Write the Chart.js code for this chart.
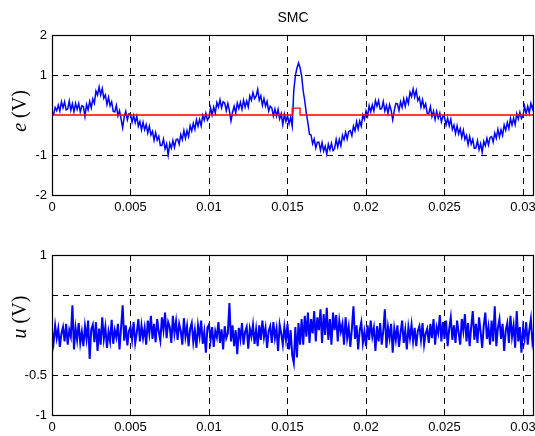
<!DOCTYPE html>
<html>
<head>
<meta charset="utf-8">
<script src="https://cdn.jsdelivr.net/npm/chart.js@4"></script>
<style>
  body { margin: 0; background: #fff; }
  .box { position: absolute; left: 0; width: 535px; height: 218px; }
  #top { top: 0; }
  #bottom { top: 218px; }
</style>
</head>
<body>
<div class="box" id="top"><canvas id="eChart" width="535" height="218"></canvas></div>
<div class="box" id="bottom"><canvas id="uChart" width="535" height="218"></canvas></div>
<script>
// sampling step of both signals (s)
const dt = 0.0001;

// tracking error e (V), one value per dt
const eVals = [
  0, 0.01, 0.19, 0.11, 0.25, 0.10, 0.33, 0.18, 0.33, 0.13,
  0.15, 0.35, 0.12, 0.28, 0.08, 0.29, 0.14, 0.29, 0.08, 0.23,
  0.21, -0.04, 0.26, 0.13, 0.34, 0.18, 0.40, 0.29, 0.60, 0.50,
  0.70, 0.50, 0.66, 0.42, 0.50, 0.26, 0.44, 0.23, 0.33, 0.09,
  0.08, 0.24, -0.02, 0.11, -0.10, -0.32, -0.05, 0.09, -0.12, 0.03,
  0.01, -0.18, -0.01, -0.19, -0.03, -0.28, -0.16, -0.37, -0.18, -0.37,
  -0.24, -0.45, -0.28, -0.50, -0.41, -0.63, -0.44, -0.63, -0.53, -0.76,
  -0.76, -0.60, -0.85, -0.72, -1.00, -0.71, -0.83, -0.64, -0.81, -0.62,
  -0.60, -0.73, -0.49, -0.62, -0.39, -0.58, -0.39, -0.54, -0.27, -0.40,
  -0.21, -0.36, -0.12, -0.28, -0.11, -0.27, -0.01, -0.13, 0.04, -0.13,
  -0.06, 0.18, 0.00, 0.20, 0.05, 0.31, 0.20, 0.38, 0.18, 0.33,
  0.30, 0.11, 0.29, 0.11, -0.15, 0.07, 0.22, 0.05, 0.30, 0.16,
  0.32, 0.14, 0.37, 0.20, 0.35, 0.20, 0.48, 0.37, 0.56, 0.41,
  0.47, 0.64, 0.37, 0.48, 0.24, 0.41, 0.22, 0.34, 0.10, 0.22,
  0.18, -0.02, 0.15, -0.03, 0.14, -0.10, 0.03, -0.24, 0.02, -0.16,
  -0.02, -0.22, -0.06, -0.28, 0.62, 0.98, 1.17, 1.30, 1.18, 0.98,
  0.60, 0.35, 0.04, -0.20, -0.48, -0.50, -0.72, -0.60, -0.82, -0.68,
  -0.68, -0.88, -0.69, -0.90, -0.78, -0.98, -0.73, -0.87, -0.71, -0.89,
  -0.84, -0.61, -0.80, -0.61, -0.77, -0.51, -0.62, -0.43, -0.60, -0.41,
  -0.39, -0.52, -0.28, -0.40, -0.17, -0.35, -0.15, -0.28, 0.00, -0.11,
  0.10, -0.03, 0.23, 0.08, 0.25, 0.10, 0.36, 0.22, 0.36, 0.15,
  0.16, 0.34, 0.10, 0.24, 0.04, 0.26, 0.12, -0.12, 0.11, 0.29,
  0.28, 0.11, 0.33, 0.19, 0.40, 0.22, 0.42, 0.29, 0.57, 0.46,
  0.65, 0.45, 0.61, 0.36, 0.44, 0.20, 0.38, 0.18, 0.28, 0.04,
  0.04, 0.21, -0.04, 0.10, -0.11, 0.09, -0.08, 0.05, -0.17, -0.03,
  -0.06, -0.25, -0.08, -0.27, -0.11, -0.36, -0.25, -0.46, -0.27, -0.47,
  -0.34, -0.56, -0.38, -0.61, -0.51, -0.74, -0.54, -0.73, -0.61, -0.83,
  -0.82, -0.64, -0.87, -0.72, -0.93, -0.66, -0.77, -0.58, -0.75, -0.56,
  -0.54, -0.68, -0.45, -0.58, -0.36, -0.55, -0.37, -0.51, -0.25, -0.38,
  -0.19, -0.34, -0.09, -0.25, -0.08, -0.24, 0.03, -0.10, 0.07, -0.09,
  -0.02, 0.22, 0.03, 0.22, 0.05, 0.29, 0.15, 0.33
];

// red reference trace (step around 0.0155 s)
const refT = [0, 0.0153, 0.0153, 0.0158, 0.0158, 0.0307];
const refV = [0, 0, 0.17, 0.17, 0, 0];

// control signal u (V), one value per dt
const uVals = [
  0.05, -0.1, 0.12, -0.04, 0.08, -0.15, 0.02, 0.1, -0.08, 0.14,
  -0.12, 0.06, -0.02, 0.37, -0.18, 0.09, -0.06, 0.15, -0.1, 0.04,
  -0.14, 0.11, -0.05, 0.18, -0.3, 0.07, 0.13, -0.09, 0.16, -0.2,
  0.08, -0.12, 0.22, -0.05, 0.1, -0.16, 0.04, -0.08, 0.19, -0.11,
  0.06, -0.03, 0.14, -0.18, 0.09, 0.37, -0.07, 0.12, -0.13, 0.05,
  0.1, -0.06, 0.16, -0.1, 0.03, 0.2, -0.08, 0.12, -0.04, 0.09,
  -0.12, 0.18, 0.02, 0.24, -0.05, 0.14, -0.09, 0.2, 0.04, -0.07,
  0.22, 0.06, 0.28, -0.04, 0.16, 0.1, -0.1, 0.24, 0.02, 0.17,
  -0.06, 0.14, 0.05, -0.12, 0.21, -0.02, 0.11, -0.14, 0.08, 0.15,
  -0.09, 0.06, -0.16, 0.12, -0.02, 0.18, -0.11, 0.04, -0.22, 0.09,
  0.13, -0.07, 0.1, -0.15, 0.05, -0.03, 0.16, -0.1, 0.07, -0.18,
  0.11, -0.04, 0.02, 0.4, -0.08, 0.12, -0.14, 0.06, -0.24, 0.09,
  -0.05, 0.15, -0.12, 0.04, 0.1, -0.17, 0.08, -0.02, 0.13, -0.11,
  0.07, -0.14, 0.12, -0.06, 0.18, -0.03, 0.09, -0.16, 0.05, 0.11,
  -0.1, 0.16, -0.04, 0.08, -0.2, 0.13, 0.02, -0.12, 0.1, -0.06,
  0.14, -0.18, 0.06, -0.25, -0.35, 0.1, -0.28, 0.15, -0.12, 0.2,
  -0.12, 0.24, -0.02, 0.28, -0.1, 0.2, 0.02, 0.3, -0.08, 0.22,
  0.06, 0.32, -0.1, 0.26, 0.0, 0.34, -0.06, 0.2, -0.12, 0.28,
  0.06, 0.25, -0.08, 0.18, 0.04, 0.14, -0.12, 0.22, -0.04, 0.1,
  -0.15, 0.08, 0.36, -0.05, 0.12, -0.18, 0.06, 0.16, -0.1, 0.04,
  -0.14, 0.12, -0.06, 0.18, -0.02, 0.09, -0.2, 0.11, -0.08, 0.15,
  -0.12, 0.05, 0.32, -0.16, 0.1, -0.04, 0.14, -0.22, 0.08, -0.06,
  0.12, -0.15, 0.03, 0.18, -0.1, 0.06, -0.18, 0.1, -0.04, 0.13,
  -0.08, 0.09, -0.14, 0.05, 0.11, -0.06, 0.15, -0.12, 0.02, 0.08,
  -0.1, 0.14, -0.04, 0.2, -0.12, 0.1, 0.02, 0.25, -0.08, 0.16,
  -0.05, 0.18, -0.14, 0.08, 0.22, -0.06, 0.12, -0.1, 0.18, 0.03,
  -0.12, 0.2, 0.05, 0.26, -0.08, 0.15, -0.14, 0.1, 0.3, -0.06,
  0.14, -0.1, 0.22, 0.04, -0.16, 0.12, 0.28, -0.05, 0.1, -0.12,
  0.18, -0.08, 0.36, -0.14, 0.09, 0.2, -0.05, 0.14, -0.2, 0.06,
  0.15, -0.1, 0.24, -0.02, 0.12, -0.16, 0.3, -0.08, 0.1, -0.22,
  0.08, -0.05, 0.16, -0.12, 0.06, 0.2, -0.09, 0.04
];

// axis ticks
const xTicks = [0, 0.005, 0.01, 0.015, 0.02, 0.025, 0.03];
const xTickLabels = ['0', '0.005', '0.01', '0.015', '0.02', '0.025', '0.03'];
const eTicks = [-2, -1, 1, 2];
const eTickLabels = ['-2', '-1', '1', '2'];
const uTicks = [-1, -0.5, 0.5, 1];
const uTickLabels = ['-1', '-0.5', '', '1'];
const xMax = 0.0307;

const sans = '"Liberation Sans", Arial, sans-serif';
const serif = '"Liberation Serif", "Times New Roman", serif';

const toPoints = (vals) => vals.map((v, i) => ({ x: i * dt, y: v }));

// black box round the plot and the rotated "e (V)" style label
const framePlugin = {
  id: 'frame',
  afterDraw(chart, args, opts) {
    const { ctx, chartArea: a } = chart;
    ctx.save();
    ctx.strokeStyle = '#000';
    ctx.lineWidth = 1.2;
    ctx.strokeRect(a.left + 0.5, a.top + 0.5, a.right - a.left - 1, a.bottom - a.top);
    ctx.translate(21, opts.labelY);
    ctx.rotate(-Math.PI / 2);
    ctx.fillStyle = '#000';
    ctx.textBaseline = 'middle';
    const italic = 'italic 20px ' + serif;
    const plain = '20px ' + serif;
    ctx.font = italic;
    const w1 = ctx.measureText(opts.letter).width;
    ctx.font = plain;
    const w2 = ctx.measureText(' (V)').width;
    let x = -(w1 + w2) / 2;
    ctx.font = italic;
    ctx.fillText(opts.letter, x, 0);
    ctx.font = plain;
    ctx.fillText(' (V)', x + w1, 0);
    ctx.restore();
  }
};

const makeScales = (yMin, yMax, yTicks, yLabels, xHeight) => ({
  x: {
    type: 'linear',
    min: 0,
    max: xMax,
    afterBuildTicks: (s) => { s.ticks = xTicks.map((v) => ({ value: v })); },
    afterFit: (s) => { s.height = xHeight; s.paddingLeft = 0; s.paddingRight = 0; },
    grid: { color: '#000', lineWidth: 1, drawTicks: false },
    border: { display: false, dash: [6, 5] },
    ticks: {
      color: '#000',
      font: { family: sans, size: 13 },
      padding: 5,
      maxRotation: 0,
      autoSkip: false,
      callback: (v) => xTickLabels[xTicks.indexOf(v)]
    }
  },
  y: {
    min: yMin,
    max: yMax,
    afterBuildTicks: (s) => { s.ticks = yTicks.map((v) => ({ value: v })); },
    afterFit: (s) => { s.width = 52; s.paddingTop = 0; s.paddingBottom = 0; },
    grid: { color: '#000', lineWidth: 1, drawTicks: false },
    border: { display: false, dash: [6, 5] },
    ticks: {
      color: '#000',
      font: { family: sans, size: 13 },
      padding: 5,
      autoSkip: false,
      callback: (v) => yLabels[yTicks.indexOf(v)]
    }
  }
});

new Chart(document.getElementById('eChart'), {
  type: 'line',
  data: {
    datasets: [
      {
        data: refT.map((t, i) => ({ x: t, y: refV[i] })),
        borderColor: '#ff0000',
        borderWidth: 1.3,
        pointRadius: 0,
        tension: 0
      },
      {
        data: toPoints(eVals),
        borderColor: '#0000ff',
        borderWidth: 1.5,
        pointRadius: 0,
        tension: 0
      }
    ]
  },
  options: {
    responsive: false,
    animation: false,
    layout: { padding: { left: 0, right: 1, top: 0, bottom: 0 } },
    scales: makeScales(-2, 2, eTicks, eTickLabels, 23),
    plugins: {
      legend: { display: false },
      tooltip: { enabled: false },
      title: {
        display: true,
        text: 'SMC',
        fullSize: false,
        color: '#000',
        font: { family: sans, size: 14, weight: 'normal' },
        padding: { top: 10, bottom: 8.2 }
      },
      frame: { letter: 'e', labelY: 111 }
    }
  },
  plugins: [framePlugin]
});

new Chart(document.getElementById('uChart'), {
  type: 'line',
  data: {
    datasets: [
      {
        data: toPoints(uVals),
        borderColor: '#0000ff',
        borderWidth: 2,
        pointRadius: 0,
        tension: 0
      }
    ]
  },
  options: {
    responsive: false,
    animation: false,
    layout: { padding: { left: 0, right: 1, top: 37, bottom: 0 } },
    scales: makeScales(-1, 1, uTicks, uTickLabels, 21),
    plugins: {
      legend: { display: false },
      tooltip: { enabled: false },
      frame: { letter: 'u', labelY: 99 }
    }
  },
  plugins: [framePlugin]
});
</script>
</body>
</html>
